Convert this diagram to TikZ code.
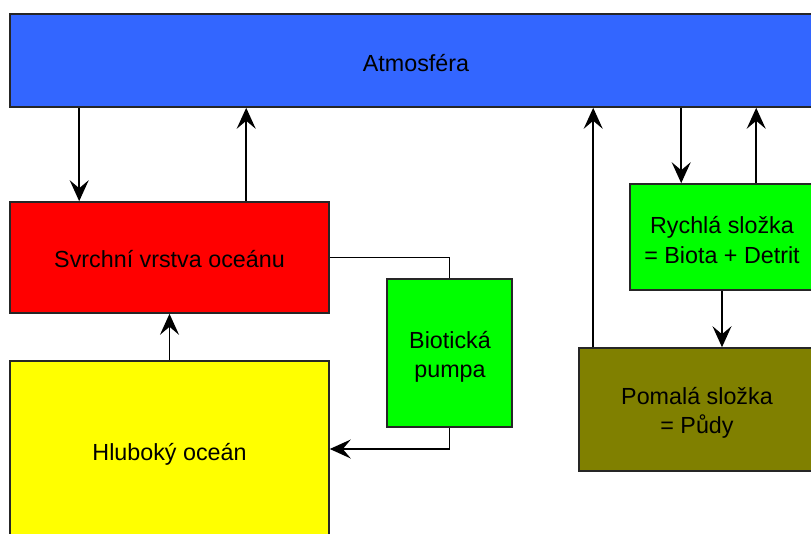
\documentclass[tikz,border=0pt]{standalone}
\usepackage{fontspec}
\setmainfont{Liberation Sans}
\usetikzlibrary{arrows.meta}
\definecolor{atmblue}{HTML}{3366FF}
\definecolor{olivec}{HTML}{808000}
\definecolor{yel}{HTML}{FFFF00}
\definecolor{grn}{HTML}{00FF00}
\tikzset{tip/.tip={Stealth[length=21pt,width=19pt,inset=8pt]}}
\begin{document}
\begin{tikzpicture}[x=1pt,y=-1pt,
  box/.style={draw=black!85,line width=1.6pt,inner sep=0pt},
  txt/.style={inner sep=0pt,align=center,font=\fontsize{23.3}{29.5}\selectfont},
  arr/.style={line width=1.6pt,-tip},
  ln/.style={line width=1.6pt}]
\useasboundingbox (0,0) rectangle (811,533);
\clip (0,0) rectangle (811,533);
\node[box,fill=atmblue,minimum width=812pt,minimum height=93pt] (atm) at (416,60.5) {};
\node[txt] (atmt) at (416,63) {Atmosféra};
\node[box,fill=red,minimum width=319pt,minimum height=111pt] (svr) at (169.5,257.5) {};
\node[txt] (svrt) at (169.5,259.5) {Svrchní vrstva oceánu};
\node[box,fill=yel,minimum width=319pt,minimum height=182pt] (hlu) at (169.5,452) {};
\node[txt] (hlut) at (169.5,454) {Hluboký oceán};
\node[box,fill=grn,minimum width=125pt,minimum height=148pt] (bio) at (449.5,353) {};
\node[txt] (biot) at (450,357) {Biotická\\ pumpa};
\node[box,fill=grn,minimum width=184pt,minimum height=106pt] (ryc) at (722,237) {};
\node[txt] (ryct) at (722,240) {Rychlá složka\\= Biota + Detrit};
\node[box,fill=olivec,minimum width=236pt,minimum height=123pt] (pom) at (697,409.5) {};
\node[txt] (pomt) at (697,413) {Pomalá složka\\= Půdy};
% ocean
\draw[arr] ([xshift=70pt]atm.south west) -- ([xshift=70pt]svr.north west);
\draw[arr] ([xshift=237pt]svr.north west) -- ([xshift=237pt]atm.south west);
\draw[arr] (hlu.north) -- (svr.south);
\draw[ln] (svr.east) -| (bio.north);
\draw[arr] (bio.south) |- ([yshift=3pt]hlu.east);
% land
\draw[arr] ([xshift=15pt]pom.north west) -- ([xshift=15pt]pom.north west |- atm.south);
\draw[arr] ([xshift=52pt]ryc.north west |- atm.south) -- ([xshift=52pt]ryc.north west);
\draw[arr] ([xshift=127pt]ryc.north west) -- ([xshift=127pt]ryc.north west |- atm.south);
\draw[arr] (ryc.south) -- (ryc.south |- pom.north);
\end{tikzpicture}
\end{document}
